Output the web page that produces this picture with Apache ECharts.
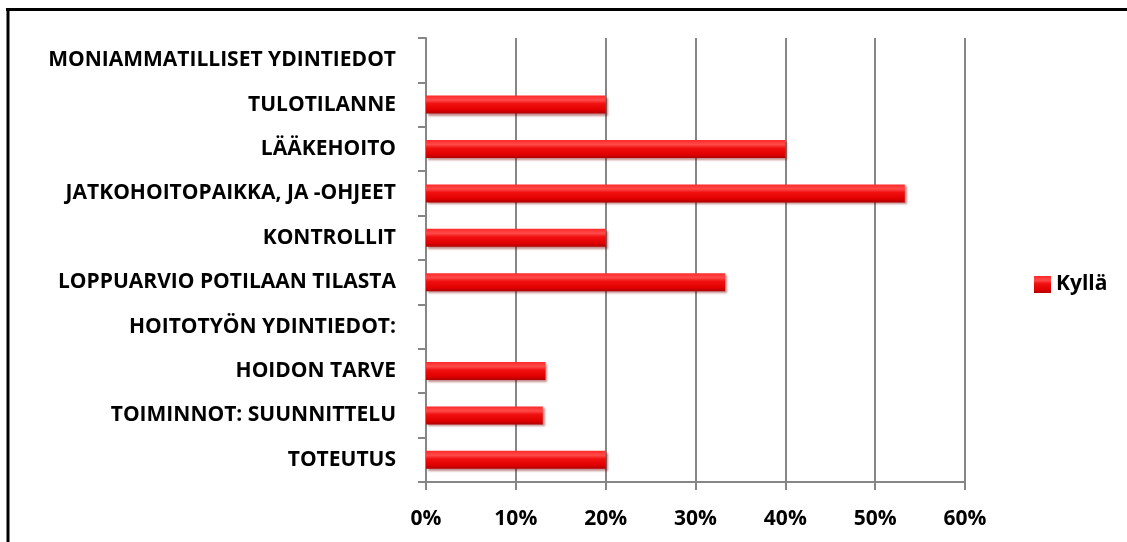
<!DOCTYPE html>
<html><head><meta charset="utf-8">
<script src="https://cdn.jsdelivr.net/npm/echarts@6/dist/echarts.min.js"></script>
<style>html,body{margin:0;padding:0;background:#fff}#c{width:1127px;height:542px}</style>
</head><body><div id="c"></div>
<script>
const categories = ["MONIAMMATILLISET YDINTIEDOT","TULOTILANNE","LÄÄKEHOITO","JATKOHOITOPAIKKA, JA -OHJEET","KONTROLLIT","LOPPUARVIO POTILAAN TILASTA","HOITOTYÖN YDINTIEDOT:","HOIDON TARVE","TOIMINNOT: SUUNNITTELU","TOTEUTUS"];
const seriesName = "Kyllä";
const values = [null, 20, 40, 53.3, 20, 33.3, null, 13.3, 13, 20];
const xTicks = [0, 10, 20, 30, 40, 50, 60];

const FONT = 'Open Sans';
const chart = echarts.init(document.getElementById('c'), null, {renderer:'canvas'});
const barColor = new echarts.graphic.LinearGradient(0,0,0,1,[
  {offset:0,color:'#ff2a2a'},{offset:0.25,color:'#ff4a4a'},{offset:0.45,color:'#f01010'},{offset:0.8,color:'#e00000'},{offset:1,color:'#b00000'}]);
chart.setOption({
  animation:false,
  textStyle:{fontFamily:FONT},
  grid:{left:426,right:162,top:38,bottom:60,containLabel:false},
  legend:{
    data:[seriesName], orient:'vertical', left:1029, top:269,
    itemWidth:17, itemHeight:17, itemGap:4,
    textStyle:{fontFamily:FONT,fontWeight:'bold',fontSize:21,color:'#000'},
    icon:'rect'
  },
  xAxis:{
    type:'value', min:0, max:60, interval:10,
    axisLine:{show:true,lineStyle:{color:'#868686',width:2}},
    axisTick:{show:true,length:8,lineStyle:{color:'#868686',width:2}},
    splitLine:{show:true,lineStyle:{color:'#868686',width:2}},
    axisLabel:{formatter:v=>xTicks.includes(v)?v+'%':'',margin:27,fontFamily:FONT,fontWeight:'bold',fontSize:21,color:'#000'}
  },
  yAxis:{
    type:'category', data:categories, inverse:true,
    axisLine:{show:true,lineStyle:{color:'#868686',width:2}},
    axisTick:{show:true,length:8,lineStyle:{color:'#868686',width:2}},
    axisLabel:{margin:30,fontFamily:FONT,fontWeight:'bold',fontSize:21,color:'#000'}
  },
  series:[{
    name:seriesName, type:'bar', data:values, barWidth:18,
    itemStyle:{color:barColor, shadowColor:'rgba(120,0,0,0.45)', shadowOffsetY:2, shadowOffsetX:2, shadowBlur:2}
  }],
  graphic:[
    {type:'line',shape:{x1:6,y1:9.5,x2:1127,y2:9.5},style:{stroke:'#000',lineWidth:3}},
    {type:'line',shape:{x1:8,y1:8,x2:8,y2:542},style:{stroke:'#000',lineWidth:3}}
  ]
});
</script></body></html>
